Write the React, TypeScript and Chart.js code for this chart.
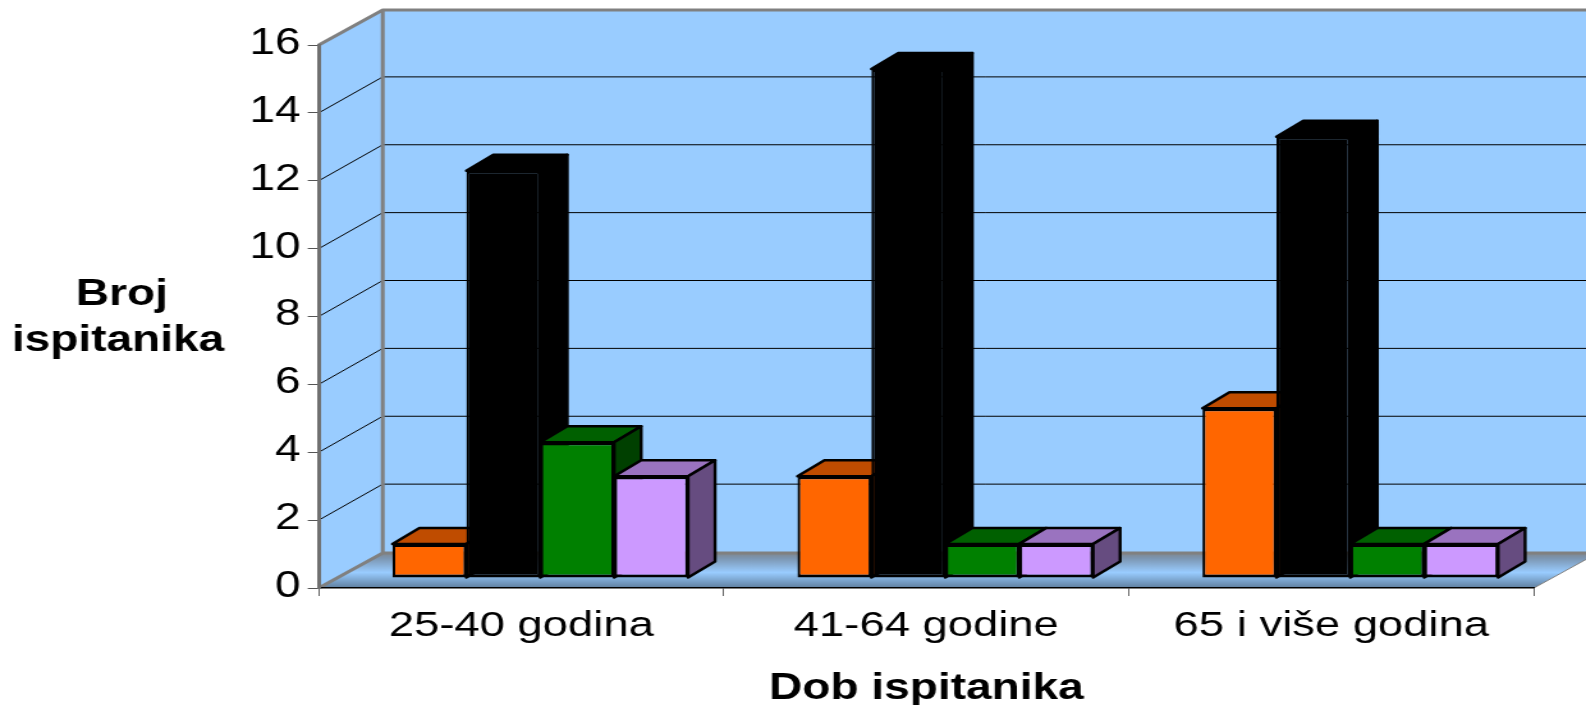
import React, { useEffect, useRef } from "react";
import { Chart, registerables } from "chart.js";

Chart.register(...registerables);

const categories = ["25-40 godina", "41-64 godine", "65 i više godina"];
const seriesOrange = [1, 3, 5];
const seriesBlack = [12, 15, 13];
const seriesGreen = [4, 1, 1];
const seriesPurple = [3, 1, 1];
const yTitleLines = ["Broj", "ispitanika"];
const xTitle = "Dob ispitanika";

const FACE = ["#FF6600", "#000000", "#008000", "#CC99FF"];
const TOP = ["#BF4C00", "#000000", "#006000", "#9A73BF"];
const SIDE = ["#803300", "#000000", "#004000", "#664C80"];

// The reference is horizontally stretched: draw on a narrower canvas and stretch it.
const S = 1.28;
const W = Math.ceil(1586 / S);
const H = 705;
const AXIS_L = 319 / S;
const AXIS_R = 1535 / S;
const AXIS_TOP = 45;
const AXIS_BOTTOM = 588;
const WALL_DX = 64 / S;
const WALL_DY = 35;
const GRID_DY = 36;
const BAR_DX = 19 / S;
const BAR_DY = 10;
const DEPTH_DX = 27 / S;
const DEPTH_DY = 16;
const FONT = "'Liberation Sans', Arial, sans-serif";

const poly = (ctx: CanvasRenderingContext2D, pts: number[][]) => {
  ctx.beginPath();
  pts.forEach(([x, y], i) => (i ? ctx.lineTo(x, y) : ctx.moveTo(x, y)));
  ctx.closePath();
};

const scene3d = {
  id: "scene3d",
  beforeDraw(chart: any) {
    const { ctx, scales } = chart;
    const y = scales.y;
    const l = chart.chartArea.left;
    const r = chart.chartArea.right;
    const y0 = y.getPixelForValue(0);
    const yT = y.getPixelForValue(16);
    const bl = l + WALL_DX;
    ctx.save();
    // back wall & left wall
    ctx.fillStyle = "#99CCFF";
    poly(ctx, [[bl, yT - WALL_DY], [r + WALL_DX, yT - WALL_DY], [r + WALL_DX, y0 - WALL_DY], [bl, y0 - WALL_DY]]);
    ctx.fill();
    poly(ctx, [[l, y0], [bl, y0 - WALL_DY], [bl, yT - WALL_DY], [l, yT]]);
    ctx.fill();
    // gridlines on both walls
    ctx.strokeStyle = "#000000";
    ctx.lineWidth = 1;
    for (const t of y.ticks) {
      if (t.value === 0 || t.value === 16) continue;
      const p = y.getPixelForValue(t.value);
      ctx.beginPath();
      ctx.moveTo(l, p);
      ctx.lineTo(bl, p - GRID_DY);
      ctx.lineTo(r + WALL_DX, p - GRID_DY);
      ctx.stroke();
    }
    // floor
    const g = ctx.createLinearGradient(0, y0 - WALL_DY - 2, 0, y0);
    g.addColorStop(0, "#808080");
    g.addColorStop(0.2, "#7C96B2");
    g.addColorStop(0.58, "#99CCFF");
    g.addColorStop(1, "#5F7F9F");
    ctx.fillStyle = g;
    poly(ctx, [[l, y0], [bl, y0 - WALL_DY], [r + WALL_DX, y0 - WALL_DY], [r, y0]]);
    ctx.fill();
    ctx.strokeStyle = "#808080";
    ctx.lineWidth = 1;
    ctx.beginPath();
    ctx.moveTo(r, y0);
    ctx.lineTo(r + WALL_DX, y0 - WALL_DY);
    ctx.stroke();
    // grey frame
    ctx.lineWidth = 3;
    ctx.lineJoin = "round";
    ctx.beginPath();
    ctx.moveTo(l, yT);
    ctx.lineTo(bl, yT - WALL_DY);
    ctx.lineTo(r + WALL_DX, yT - WALL_DY);
    ctx.moveTo(bl, yT - WALL_DY);
    ctx.lineTo(bl, y0 - WALL_DY);
    ctx.moveTo(l, y0);
    ctx.lineTo(bl, y0 - WALL_DY);
    ctx.lineTo(r + WALL_DX, y0 - WALL_DY);
    ctx.stroke();
    ctx.restore();
  },
  beforeDatasetsDraw(chart: any) {
    const { ctx } = chart;
    chart.data.datasets.forEach((_: any, i: number) => {
      const meta = chart.getDatasetMeta(i);
      ctx.save();
      ctx.translate(BAR_DX, -BAR_DY);
      meta.data.forEach((el: any) => {
        const { x, y, base, width } = el;
        const a = x - width / 2;
        const b = x + width / 2;
        ctx.strokeStyle = "#000000";
        ctx.lineWidth = 2.4;
        ctx.lineJoin = "round";
        ctx.fillStyle = TOP[i];
        poly(ctx, [[a, y], [a + DEPTH_DX, y - DEPTH_DY], [b + DEPTH_DX, y - DEPTH_DY], [b, y]]);
        ctx.fill();
        ctx.stroke();
        ctx.fillStyle = SIDE[i];
        poly(ctx, [[b, y], [b + DEPTH_DX, y - DEPTH_DY], [b + DEPTH_DX, base - DEPTH_DY], [b, base]]);
        ctx.fill();
        ctx.stroke();
        el.draw(ctx);
      });
      ctx.restore();
    });
  },
  beforeDatasetDraw() {
    return false;
  },
  afterDraw(chart: any) {
    const { ctx } = chart;
    ctx.save();
    ctx.fillStyle = "#000000";
    ctx.font = `bold 36px ${FONT}`;
    ctx.textAlign = "center";
    ctx.textBaseline = "alphabetic";
    ctx.fillText(yTitleLines[0], 122 / S, 305);
    ctx.fillText(yTitleLines[1], 118 / S, 351);
    ctx.restore();
  },
};

export default function App() {
  const ref = useRef<HTMLCanvasElement>(null);
  useEffect(() => {
    const chart = new Chart(ref.current as HTMLCanvasElement, {
      type: "bar",
      data: {
        labels: categories,
        datasets: [seriesOrange, seriesBlack, seriesGreen, seriesPurple].map((data, i) => ({
          data,
          backgroundColor: FACE[i],
          borderColor: "#000000",
          borderWidth: { top: 3, bottom: 3, left: 2.2, right: 2.2 },
          borderSkipped: false,
          categoryPercentage: 0.73,
          barPercentage: 1,
        })),
      },
      options: {
        responsive: false,
        animation: false,
        events: [],
        layout: { padding: { top: AXIS_TOP, right: W - AXIS_R, left: 0, bottom: 0 } },
        plugins: { legend: { display: false }, title: { display: false }, tooltip: { enabled: false } },
        scales: {
          x: {
            afterFit: (s: any) => { s.height = H - AXIS_BOTTOM; },
            grid: { drawOnChartArea: false, drawTicks: true, tickLength: 8, color: "#666666" },
            border: { display: true, color: "#000000", width: 1.5 },
            ticks: { color: "#000000", font: { family: FONT, size: 35.5 }, padding: 8.5, maxRotation: 0, autoSkip: false },
            title: {
              display: true,
              text: xTitle,
              color: "#000000",
              font: { family: FONT, size: 36, weight: "bold", lineHeight: 1 },
              padding: { top: 0, bottom: -2 },
            },
          },
          y: {
            min: 0,
            max: 16,
            afterFit: (s: any) => { s.width = AXIS_L; },
            grid: { drawOnChartArea: false, drawTicks: true, tickLength: 8.6, color: "#555555" },
            border: { display: true, color: "#707070", width: 3 },
            ticks: { stepSize: 2, color: "#000000", font: { family: FONT, size: 36 }, padding: 5.5, labelOffset: -1 },
          },
        },
      },
      plugins: [scene3d],
    } as any);
    return () => chart.destroy();
  }, []);
  return (
    <div style={{ position: "fixed", left: 0, top: 0, width: 1586, height: 705, overflow: "hidden", background: "#fff" }}>
      <canvas
        ref={ref}
        width={W}
        height={H}
        style={{ display: "block", transformOrigin: "0 0", transform: `scaleX(${1586 / W})` }}
      />
    </div>
  );
}
